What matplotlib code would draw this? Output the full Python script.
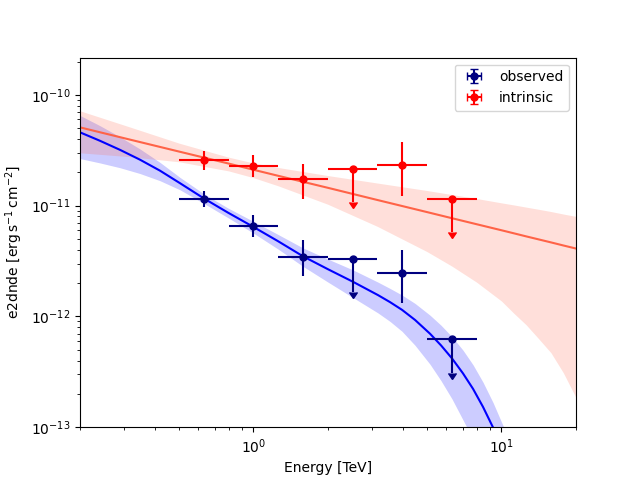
import numpy as np
import matplotlib
matplotlib.use("Agg")
import matplotlib.pyplot as plt

# flux points (energy bins in TeV)
e_ref = np.array([0.631, 1.0, 1.585, 2.512, 3.981, 6.310])
e_min = np.array([0.501, 0.794, 1.259, 1.995, 3.162, 5.012])
e_max = np.array([0.794, 1.259, 1.995, 3.162, 5.012, 7.943])

obs_flux = np.array([1.146e-11, 6.49e-12, 3.47e-12, 3.33e-12, 2.45e-12, 6.21e-13])
obs_errn = np.array([1.70e-12, 1.27e-12, 1.15e-12, 0.0, 1.14e-12, 0.0])
obs_errp = np.array([2.1e-12, 1.77e-12, 1.41e-12, 0.0, 1.51e-12, 0.0])
obs_ul = np.array([False, False, False, True, False, True])

int_flux = np.array([2.60e-11, 2.26e-11, 1.74e-11, 2.14e-11, 2.34e-11, 1.15e-11])
int_errn = np.array([4.9e-12, 4.4e-12, 5.9e-12, 0.0, 1.11e-11, 0.0])
int_errp = np.array([5.1e-12, 6.0e-12, 6.3e-12, 0.0, 1.38e-11, 0.0])
int_ul = np.array([False, False, False, True, False, True])

# absorbed model curve (observed) and its error band
obs_model_e = np.array([0.200, 0.2408, 0.2899, 0.3490, 0.4202, 0.5059, 0.6324, 0.7901,
                        0.9968, 1.257, 1.586, 2.000, 2.522, 3.181, 3.556, 3.976, 4.486,
                        5.157, 5.711, 6.324, 7.004, 7.688, 8.433, 9.254, 10.15, 11.14])
obs_model = np.array([4.59e-11, 3.85e-11, 3.19e-11, 2.60e-11, 2.07e-11, 1.596e-11,
                      1.161e-11, 8.65e-12, 6.46e-12, 4.78e-12, 3.49e-12, 2.666e-12,
                      2.055e-12, 1.558e-12, 1.347e-12, 1.147e-12, 9.30e-13, 6.98e-13,
                      5.48e-13, 4.18e-13, 3.06e-13, 2.22e-13, 1.526e-13, 9.96e-14,
                      6.17e-14, 3.59e-14])
obs_band_hi = np.array([6.52e-11, 5.27e-11, 4.18e-11, 3.25e-11, 2.46e-11, 1.80e-11,
                        1.277e-11, 9.52e-12, 7.24e-12, 5.50e-12, 4.15e-12, 3.29e-12,
                        2.63e-12, 2.04e-12, 1.79e-12, 1.56e-12, 1.311e-12, 1.026e-12,
                        8.33e-13, 6.56e-13, 4.96e-13, 3.66e-13, 2.55e-13, 1.673e-13,
                        1.037e-13, 6.03e-14])
obs_band_lo = np.array([2.66e-11, 2.43e-11, 2.20e-11, 1.95e-11, 1.68e-11, 1.39e-11,
                        1.045e-11, 7.79e-12, 5.68e-12, 4.06e-12, 2.83e-12, 2.04e-12,
                        1.48e-12, 1.075e-12, 9.02e-13, 7.34e-13, 5.49e-13, 3.70e-13,
                        2.63e-13, 1.80e-13, 1.163e-13, 7.77e-14, 5.04e-14, 3.19e-14,
                        1.97e-14, 1.15e-14])

# intrinsic power law and its error band
int_model_e = np.array([0.2, 0.316, 0.501, 0.794, 1.0, 1.259, 1.995, 3.162, 5.012,
                        6.310, 7.943, 10.0, 11.22, 12.59, 14.13, 15.85, 17.78, 20.0])
int_model = np.array([5.09e-11, 3.96e-11, 3.08e-11, 2.40e-11, 2.11e-11, 1.86e-11,
                      1.45e-11, 1.125e-11, 8.75e-12, 7.71e-12, 6.80e-12, 6.0e-12,
                      5.63e-12, 5.28e-12, 4.96e-12, 4.66e-12, 4.37e-12, 4.10e-12])
int_band_hi = np.array([7.18e-11, 5.15e-11, 3.67e-11, 2.74e-11, 2.43e-11, 2.21e-11,
                        1.87e-11, 1.60e-11, 1.37e-11, 1.26e-11, 1.16e-11, 1.06e-11,
                        1.015e-11, 9.7e-12, 9.27e-12, 8.85e-12, 8.4e-12, 8.0e-12])
int_band_lo = np.array([3.00e-11, 2.77e-11, 2.49e-11, 2.06e-11, 1.79e-11, 1.51e-11,
                        1.03e-11, 6.5e-12, 3.85e-12, 2.85e-12, 2.04e-12, 1.38e-12,
                        1.07e-12, 8.4e-13, 6.3e-13, 4.7e-13, 3.1e-13, 1.85e-13])


def plot_points(ax, flux, errn, errp, is_ul, color, label):
    xerr = [e_ref - e_min, e_max - e_ref]
    yn = np.where(is_ul, 0.5 * flux, errn)
    yerr = [yn, errp]
    ax.errorbar(e_ref, flux, xerr=xerr, yerr=yerr, uplims=is_ul, fmt="o",
                color=color, markersize=5, label=label)


fig, ax = plt.subplots()

ax.fill_between(obs_model_e, obs_band_lo, obs_band_hi, color="blue", alpha=0.2, linewidth=0)
ax.plot(obs_model_e, obs_model, color="blue", lw=1.5)
ax.fill_between(int_model_e, int_band_lo, int_band_hi, color="tomato", alpha=0.2, linewidth=0)
ax.plot(int_model_e, int_model, color="tomato", lw=1.5)

plot_points(ax, obs_flux, obs_errn, obs_errp, obs_ul, "navy", "observed")
plot_points(ax, int_flux, int_errn, int_errp, int_ul, "red", "intrinsic")

ax.set_xscale("log")
ax.set_yscale("log")
ax.set_xlim(0.2, 20)
ax.set_ylim(1e-13, 2.17e-10)
ax.set_xlabel("Energy [TeV]")
ax.set_ylabel(r"e2dnde [$\mathrm{erg\,s^{-1}\,cm^{-2}}$]")
ax.legend(loc="upper right")

fig.savefig("out.png", dpi=100)
